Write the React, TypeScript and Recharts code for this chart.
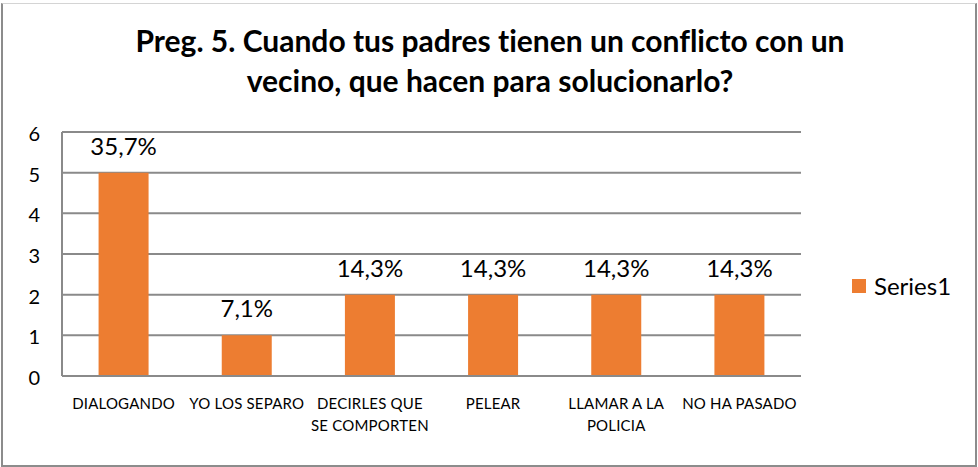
import React from "react";
import { BarChart, Bar, XAxis, YAxis, CartesianGrid, LabelList } from "recharts";

const categories = ["DIALOGANDO", "YO LOS SEPARO", "DECIRLES QUE SE COMPORTEN", "PELEAR", "LLAMAR A LA POLICIA", "NO HA PASADO"];
const values = [5, 1, 2, 2, 2, 2];
const percentLabels = ["35,7%", "7,1%", "14,3%", "14,3%", "14,3%", "14,3%"];
const yTicks = [0, 1, 2, 3, 4, 5, 6];
const titleLines = ["Preg. 5. Cuando tus padres tienen un conflicto con un", "vecino, que hacen para solucionarlo?"];
const seriesName = "Series1";

const data = categories.map((c, i) => ({ name: c, value: values[i], label: percentLabels[i] }));

const FONT = "Lato, 'Noto Sans', sans-serif";
const BAR = "#ED7D31";
const GRID = "#8a8a8a";
const NOLIG = { fontVariantLigatures: "none" as const };

function wrap(text: string, maxChars: number): string[] {
  const words = text.split(" ");
  const lines: string[] = [];
  let cur = "";
  for (const w of words) {
    const t = cur ? cur + " " + w : w;
    if (t.length > maxChars && cur) {
      lines.push(cur);
      cur = w;
    } else cur = t;
  }
  if (cur) lines.push(cur);
  return lines;
}

const XTick = (props: any) => {
  const { x, y, payload } = props;
  const lines = wrap(String(payload.value), 13);
  return (
    <g>
      {lines.map((l, i) => (
        <text key={i} x={x} y={y + 31 + i * 22} textAnchor="middle" fontFamily={FONT} fontSize={15} fill="#000" letterSpacing={0.2} style={NOLIG}>
          {l}
        </text>
      ))}
    </g>
  );
};

const YTick = (props: any) => {
  const { x, y, payload } = props;
  return (
    <text x={x} y={y + 9} textAnchor="end" fontFamily={FONT} fontSize={20} fill="#000">
      {payload.value}
    </text>
  );
};

const BarLabel = (props: any) => {
  const { x, y, width, value } = props;
  return (
    <text x={x + width / 2} y={y - 18} textAnchor="middle" fontFamily={FONT} fontSize={24} fill="#000">
      {value}
    </text>
  );
};

export default function App() {
  return (
    <div style={{ position: "fixed", left: 0, top: 0, width: 978, height: 467, background: "#fff" }}>
      <div
        style={{
          position: "absolute",
          left: 1,
          top: 3,
          width: 972,
          height: 461,
          borderTop: "1px solid #d4d4d4",
          borderLeft: "2px solid #8c8c8c",
          borderRight: "2px solid #8c8c8c",
          borderBottom: "2px solid #8c8c8c",
        }}
      />
      <div style={{ position: "absolute", left: 0, top: 0 }}>
        <BarChart width={978} height={467} data={data} margin={{ top: 132, right: 177, bottom: 31, left: 22 }} barCategoryGap="29.7%">
          <CartesianGrid vertical={false} stroke={GRID} strokeWidth={2} />
          <XAxis dataKey="name" interval={0} height={60} tickLine={false} tickSize={0} tick={<XTick />} axisLine={{ stroke: GRID, strokeWidth: 2 }} />
          <YAxis domain={[0, 6]} ticks={yTicks} width={40} tickLine={false} tickSize={0} tickMargin={22} tick={<YTick />} axisLine={{ stroke: GRID, strokeWidth: 2 }} />
          <Bar dataKey="value" fill={BAR} isAnimationActive={false}>
            <LabelList dataKey="label" content={<BarLabel />} />
          </Bar>
        </BarChart>
      </div>
      <svg width={978} height={467} style={{ position: "absolute", left: 0, top: 0, pointerEvents: "none" }}>
        {titleLines.map((t, i) => (
          <text key={i} x={490} y={52 + i * 40} textAnchor="middle" fontFamily={FONT} fontWeight={700} fontSize={30} fill="#000" style={NOLIG}>
            {t}
          </text>
        ))}
        <rect x={852} y={279} width={14} height={14} fill={BAR} />
        <text x={874} y={295} fontFamily={FONT} fontSize={24} fill="#000">
          {seriesName}
        </text>
      </svg>
    </div>
  );
}
